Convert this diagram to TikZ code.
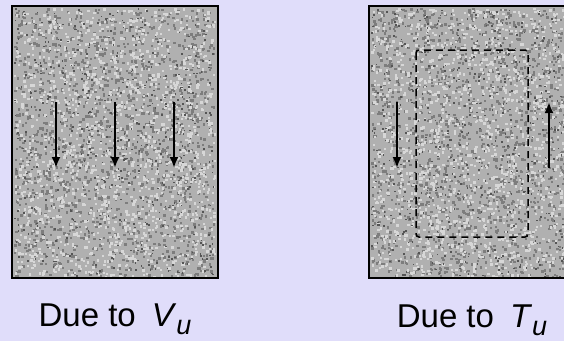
\documentclass[tikz,border=0pt]{standalone}
\usepackage{fontspec}
\setmainfont{Liberation Sans}
\usetikzlibrary{arrows.meta}
\definecolor{slidebg}{RGB}{224,221,250}
\definecolor{granite}{RGB}{176,176,176}
\definecolor{speckdark}{RGB}{125,125,125}
\definecolor{speckblack}{RGB}{85,85,85}
\definecolor{specklight}{RGB}{215,215,215}

\begin{document}
\begin{tikzpicture}[
  x=1pt, y=-1pt,
  panel/.style={rectangle, fill=granite, minimum width=206pt, minimum height=272pt, inner sep=0pt},
  frame/.style={draw=black, line width=2.5pt},
  force/.style={line width=2.5pt, -{Latex[length=11pt,width=9pt]}},
  core/.style={draw=black, line width=1.5pt, dash pattern=on 7pt off 5pt, rounded corners=3pt},
  caption/.style={font=\fontsize{33}{38}\selectfont, anchor=base, inner sep=0pt},
]
\useasboundingbox (0,0) rectangle (564,341);
\fill[slidebg] (0,0) rectangle (564,341);
\clip (0,0) rectangle (564,341);

% the two slabs
\node[panel] (vbox) at (115,142) {};
\node[panel] (tbox) at (472,142) {};

% granite texture
\pgfmathsetseed{11}
\foreach \i in {1,...,1500}
  \fill[speckdark] ({14+200*rnd},{8+268*rnd}) rectangle ++(2.4,2.4);
\foreach \i in {1,...,1500}
  \fill[specklight] ({14+200*rnd},{8+268*rnd}) rectangle ++(2.4,2.4);
\foreach \i in {1,...,500}
  \fill[speckblack] ({14+200*rnd},{8+268*rnd}) rectangle ++(1.6,1.6);
\foreach \i in {1,...,1500}
  \fill[speckdark] ({371+200*rnd},{8+268*rnd}) rectangle ++(2.4,2.4);
\foreach \i in {1,...,1500}
  \fill[specklight] ({371+200*rnd},{8+268*rnd}) rectangle ++(2.4,2.4);
\foreach \i in {1,...,500}
  \fill[speckblack] ({371+200*rnd},{8+268*rnd}) rectangle ++(1.6,1.6);
\draw[frame] (vbox.north west) rectangle (vbox.south east);
\draw[frame] (tbox.north west) rectangle (tbox.south east);

% shear from Vu
\foreach \x [count=\i] in {56,115,174} {
  \coordinate (vtop\i) at (\x,102);
  \coordinate (vbot\i) at (\x,168);
  \draw[force] (vtop\i) -- (vbot\i);
}

% shear flow from Tu
\coordinate (ctl) at (416,50);
\coordinate (cbr) at (528,237);
\draw[core] (ctl) rectangle (cbr);
\coordinate (ltop) at (397,102);
\coordinate (lbot) at (397,168);
\coordinate (rtop) at (549,102);
\coordinate (rbot) at (549,168);
\draw[force] (ltop) -- (lbot);
\draw[force] (rbot) -- (rtop);

% captions
\node[caption] (vlabel) at (115,326) {Due to\hspace{16pt}\textit{V}\raisebox{-8pt}{\fontsize{27}{27}\selectfont\textit{u}}};
\node[caption] (tlabel) at (472,327) {Due to\hspace{16pt}\textit{T}\raisebox{-8pt}{\fontsize{27}{27}\selectfont\textit{u}}};
\end{tikzpicture}
\end{document}
